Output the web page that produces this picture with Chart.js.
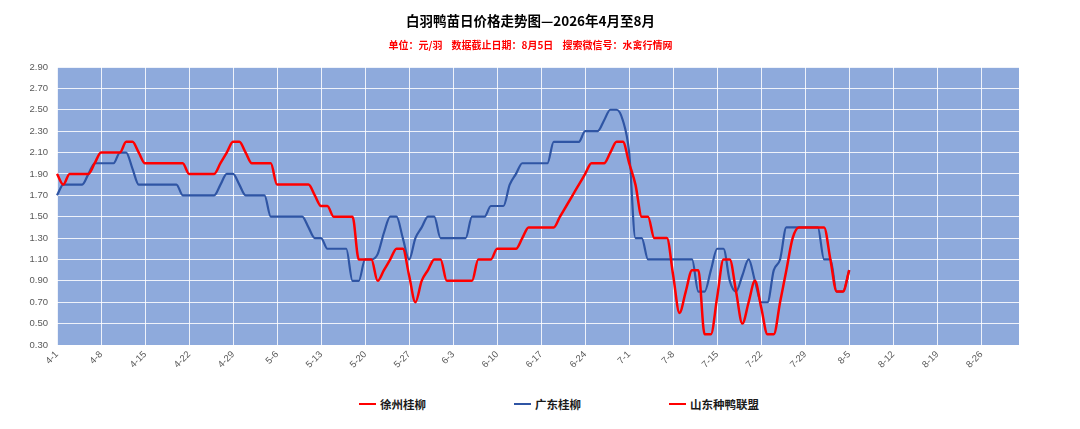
<!DOCTYPE html>
<html>
<head>
<meta charset="utf-8">
<script src="https://cdn.jsdelivr.net/npm/chart.js@4"></script>
<style>
  body { margin: 0; background: #fff; }
  #wrap { position: relative; width: 1080px; height: 429px; font-family: 'Noto Sans CJK SC', sans-serif; }
  #chartBox { position: absolute; left: 0; top: 0; width: 1080px; height: 385px; }
  #title { position: absolute; left: 0; width: 1061px; top: 10px; text-align: center;
           font-size: 13.5px; font-weight: bold; color: #000; line-height: 20px; }
  #subtitle { position: absolute; left: 0; width: 1061px; top: 38px; text-align: center; white-space: pre;
              font-size: 10px; font-weight: bold; color: #ff0000; line-height: 14px; }
  #legend { position: absolute; left: 359px; top: 396px; display: flex; align-items: center;
            font-weight: bold; font-size: 11.5px; color: #1a1a1a; }
  #legend .item { display: flex; align-items: center; margin-right: 88px; }
  #legend .swatch { width: 17px; height: 2px; margin-right: 4px; }
</style>
</head>
<body>
<div id="wrap">
  <div id="chartBox"><canvas id="chart"></canvas></div>
  <div id="title">白羽鸭苗日价格走势图—2026年4月至8月</div>
  <div id="subtitle">单位：元/羽    数据截止日期：8月5日    搜索微信号：水禽行情网</div>
  <div id="legend"></div>
</div>
<script>
// daily prices from 4-1 to 8-5 (yuan per chick)
const xuzhou = [
  1.9, 1.8, 1.9, 1.9, 1.9, 1.9, 2.0, 2.1, 2.1, 2.1,
  2.1, 2.2, 2.2, 2.1, 2.0, 2.0, 2.0, 2.0, 2.0, 2.0,
  2.0, 1.9, 1.9, 1.9, 1.9, 1.9, 2.0, 2.1, 2.2, 2.2,
  2.1, 2.0, 2.0, 2.0, 2.0, 1.8, 1.8, 1.8, 1.8, 1.8,
  1.8, 1.7, 1.6, 1.6, 1.5, 1.5, 1.5, 1.5, 1.1, 1.1,
  1.1, 0.9, 1.0, 1.1, 1.2, 1.2, 0.95, 0.7, 0.9, 1.0,
  1.1, 1.1, 0.9, 0.9, 0.9, 0.9, 0.9, 1.1, 1.1, 1.1,
  1.2, 1.2, 1.2, 1.2, 1.3, 1.4, 1.4, 1.4, 1.4, 1.4,
  1.5, 1.6, 1.7, 1.8, 1.9, 2.0, 2.0, 2.0, 2.1, 2.2,
  2.2, 2.0, 1.8, 1.5, 1.5, 1.3, 1.3, 1.3, 0.95, 0.6,
  0.8, 1.0, 1.0, 0.4, 0.4, 0.75, 1.1, 1.1, 0.8, 0.5,
  0.7, 0.9, 0.65, 0.4, 0.4, 0.7, 1.0, 1.3, 1.4, 1.4,
  1.4, 1.4, 1.4, 1.1, 0.8, 0.8, 1.0
];
const guangdong = [
  1.7, 1.8, 1.8, 1.8, 1.8, 1.9, 2.0, 2.0, 2.0, 2.0,
  2.1, 2.1, 1.95, 1.8, 1.8, 1.8, 1.8, 1.8, 1.8, 1.8,
  1.7, 1.7, 1.7, 1.7, 1.7, 1.7, 1.8, 1.9, 1.9, 1.8,
  1.7, 1.7, 1.7, 1.7, 1.5, 1.5, 1.5, 1.5, 1.5, 1.5,
  1.4, 1.3, 1.3, 1.2, 1.2, 1.2, 1.2, 0.9, 0.9, 1.1,
  1.1, 1.15, 1.35, 1.5, 1.5, 1.3, 1.1, 1.3, 1.4, 1.5,
  1.5, 1.3, 1.3, 1.3, 1.3, 1.3, 1.5, 1.5, 1.5, 1.6,
  1.6, 1.6, 1.8, 1.9, 2.0, 2.0, 2.0, 2.0, 2.0, 2.2,
  2.2, 2.2, 2.2, 2.2, 2.3, 2.3, 2.3, 2.4, 2.5, 2.5,
  2.4, 2.1, 1.3, 1.3, 1.1, 1.1, 1.1, 1.1, 1.1, 1.1,
  1.1, 1.1, 0.8, 0.8, 1.0, 1.2, 1.2, 0.9, 0.8, 0.95,
  1.1, 0.9, 0.7, 0.7, 1.0, 1.1, 1.4, 1.4, 1.4, 1.4,
  1.4, 1.4, 1.1, 1.1, 0.8, 0.8, 1.0
];
const shandong = [];

const seriesNames = ['徐州桂柳', '广东桂柳', '山东种鸭联盟'];
const seriesColors = ['#ff0000', '#2f55a4', '#ff0000'];

// x axis runs 4-1 .. 9-1, a label every 7 days
const monthDays = [[4, 30], [5, 31], [6, 30], [7, 31], [8, 31], [9, 1]];
const categories = [];
monthDays.forEach(([m, n]) => {
  for (let d = 1; d <= n; d++) categories.push(m + '-' + d);
});
const tickLabels = ['4-1', '4-8', '4-15', '4-22', '4-29', '5-6', '5-13', '5-20', '5-27',
  '6-3', '6-10', '6-17', '6-24', '7-1', '7-8', '7-15', '7-22', '7-29', '8-5', '8-12', '8-19', '8-26'];

const plotBg = {
  id: 'plotBg',
  beforeDraw(chart) {
    const { ctx, chartArea: a } = chart;
    ctx.save();
    ctx.fillStyle = '#8eaadc';
    ctx.fillRect(a.left, a.top, a.right - a.left, a.bottom - a.top);
    ctx.restore();
  }
};

const chart = new Chart(document.getElementById('chart'), {
  type: 'line',
  data: {
    labels: categories,
    datasets: [
      { label: seriesNames[0], data: xuzhou, borderColor: seriesColors[0], backgroundColor: seriesColors[0], borderWidth: 2.5 },
      { label: seriesNames[1], data: guangdong, borderColor: seriesColors[1], backgroundColor: seriesColors[1], borderWidth: 2.2 },
      { label: seriesNames[2], data: shandong, borderColor: seriesColors[2], backgroundColor: seriesColors[2], borderWidth: 2.5 }
    ]
  },
  options: {
    responsive: true,
    maintainAspectRatio: false,
    animation: false,
    layout: { padding: { left: 0, right: 61, top: 67, bottom: 0 } },
    elements: { point: { radius: 0 }, line: { cubicInterpolationMode: 'monotone' } },
    plugins: {
      legend: { display: false },
      tooltip: { enabled: false }
    },
    scales: {
      x: {
        offset: false,
        border: { display: false },
        grid: {
          color: 'rgba(255,255,255,0.85)',
          lineWidth: 1,
          drawTicks: false
        },
        ticks: {
          autoSkip: false,
          minRotation: 45,
          maxRotation: 45,
          padding: 4,
          color: '#595959',
          font: { family: "'Liberation Sans'", size: 9.5 },
          callback(v) {
            const lab = categories[v];
            return tickLabels.includes(lab) ? lab : null;
          }
        },
        afterFit(scale) { scale.height = 40; }
      },
      y: {
        min: 0.3,
        max: 2.9,
        border: { display: false },
        grid: { color: 'rgba(255,255,255,0.85)', lineWidth: 1, drawTicks: false },
        ticks: {
          stepSize: 0.2,
          padding: 9,
          color: '#595959',
          font: { family: "'Liberation Sans'", size: 9.5 },
          callback: v => v.toFixed(2)
        },
        afterFit(scale) { scale.width = 57; }
      }
    }
  },
  plugins: [plotBg]
});

// legend below the chart, built from the datasets
const legendEl = document.getElementById('legend');
chart.data.datasets.forEach(ds => {
  const item = document.createElement('div');
  item.className = 'item';
  const sw = document.createElement('span');
  sw.className = 'swatch';
  sw.style.background = ds.borderColor;
  const txt = document.createElement('span');
  txt.textContent = ds.label;
  item.appendChild(sw);
  item.appendChild(txt);
  legendEl.appendChild(item);
});
</script>
</body>
</html>
